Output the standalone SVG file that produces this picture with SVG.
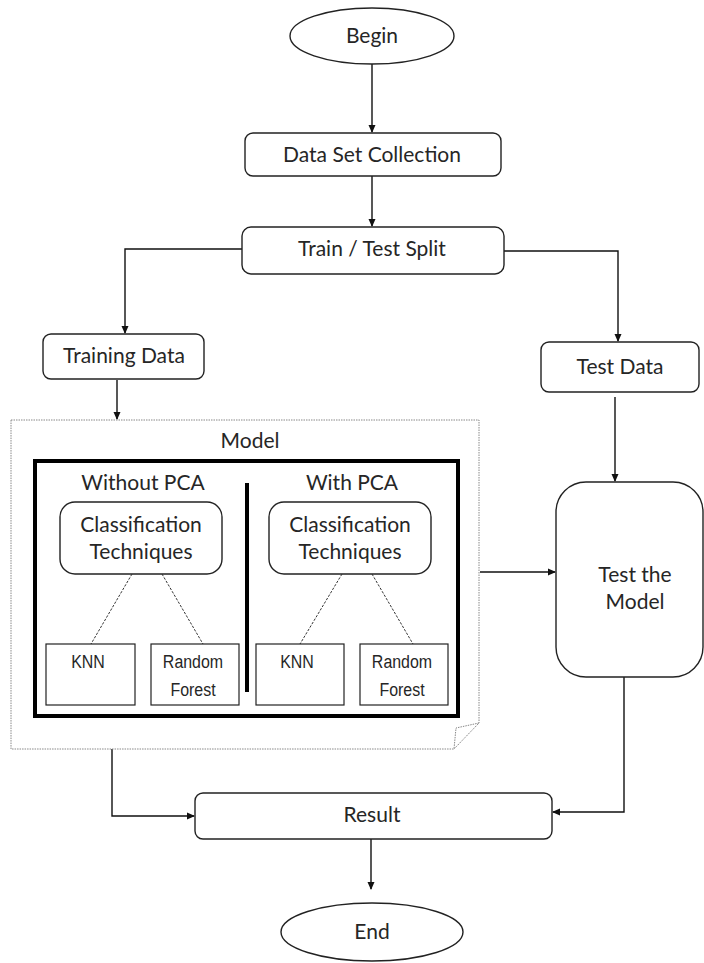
<svg xmlns="http://www.w3.org/2000/svg" width="704" height="963" viewBox="0 0 704 963">
<style>
.box{fill:#fff;stroke:#222;stroke-width:1.4}
.t{font-family:Lato,"Open Sans","Noto Sans",sans-serif;fill:#262626;text-anchor:middle;font-size:21px}
.n{font-family:"Liberation Sans",Arial,sans-serif;fill:#262626;text-anchor:middle;font-size:19px}
.c{fill:none;stroke:#111;stroke-width:1.4}
.d{fill:none;stroke:#333;stroke-width:1;stroke-dasharray:2.5 1.5}
.sq{fill:#fff;stroke:#222;stroke-width:1.2}
</style>
<defs>
<marker id="ah" markerWidth="8" markerHeight="8" refX="7" refY="4" orient="auto" markerUnits="userSpaceOnUse">
<path d="M0,0.5 L8,4 L0,7.5 Z" fill="#111"/>
</marker>
</defs>
<rect width="704" height="963" fill="#fff"/>

<g id="connectors">
<path class="c" d="M372,64 V132" marker-end="url(#ah)"/>
<path class="c" d="M372,176 V226" marker-end="url(#ah)"/>
<path class="c" d="M242,249 H125 V333" marker-end="url(#ah)"/>
<path class="c" d="M504,251 H618 V341" marker-end="url(#ah)"/>
<path class="c" d="M117,380 V419" marker-end="url(#ah)"/>
<path class="c" d="M615,397 V481" marker-end="url(#ah)"/>
<path class="c" d="M480,572 H555" marker-end="url(#ah)"/>
<path class="c" d="M112,749 V816 H194" marker-end="url(#ah)"/>
<path class="c" d="M624,677 V812 H553" marker-end="url(#ah)"/>
<path class="c" d="M371,839 V889" marker-end="url(#ah)"/>
</g>

<g id="begin">
<ellipse class="box" cx="372" cy="36" rx="82" ry="28"/>
<text class="t" x="372" y="43">Begin</text>
</g>

<g id="data-set-collection">
<rect class="box" x="245" y="133" width="256" height="43" rx="8"/>
<text class="t" x="372" y="162">Data Set Collection</text>
</g>

<g id="train-test-split">
<rect class="box" x="242" y="227" width="262" height="47" rx="9"/>
<text class="t" x="372" y="256">Train / Test Split</text>
</g>

<g id="training-data">
<rect class="box" x="43" y="334" width="161" height="45" rx="8"/>
<text class="t" x="124" y="363">Training Data</text>
</g>

<g id="test-data">
<rect class="box" x="541" y="342" width="158" height="50" rx="8"/>
<text class="t" x="620" y="374">Test Data</text>
</g>

<g id="model">
<path d="M11,420 H479 V723 L454,749 H11 Z" fill="#fff" stroke="#888" stroke-width="1" stroke-dasharray="1.5 1"/>
<path d="M479,723 L456,728 L454,749" fill="none" stroke="#888" stroke-width="1" stroke-dasharray="1.5 1"/>
<text class="t" x="250" y="448" font-size="23">Model</text>
<rect x="35" y="461" width="423" height="255" fill="none" stroke="#000" stroke-width="4"/>
<line x1="247" y1="483" x2="247" y2="692" stroke="#000" stroke-width="4"/>
</g>

<g id="without-pca">
<text class="t" x="143" y="490" font-size="22" fill="#1a1f3a">Without PCA</text>
<rect class="box" x="60" y="502" width="162" height="72" rx="15"/>
<text class="t" x="141" y="532">Classification</text>
<text class="t" x="141" y="559">Techniques</text>
<line class="d" x1="132" y1="574" x2="91" y2="644"/>
<line class="d" x1="162" y1="574" x2="203" y2="644"/>
</g>
<g id="knn-1">
<rect class="sq" x="46" y="644" width="89" height="61"/>
<text class="n" transform="translate(88,668) scale(0.84,1)">KNN</text>
</g>
<g id="random-forest-1">
<rect class="sq" x="151" y="644" width="88" height="61"/>
<text class="n" transform="translate(193,668) scale(0.84,1)">Random</text>
<text class="n" transform="translate(193,696) scale(0.84,1)">Forest</text>
</g>

<g id="with-pca">
<text class="t" x="352" y="490" font-size="22" fill="#1a1f3a">With PCA</text>
<rect class="box" x="269" y="502" width="162" height="72" rx="15"/>
<text class="t" x="350" y="532">Classification</text>
<text class="t" x="350" y="559">Techniques</text>
<line class="d" x1="342" y1="574" x2="300" y2="644"/>
<line class="d" x1="372" y1="574" x2="413" y2="644"/>
</g>
<g id="knn-2">
<rect class="sq" x="256" y="644" width="88" height="61"/>
<text class="n" transform="translate(297,668) scale(0.84,1)">KNN</text>
</g>
<g id="random-forest-2">
<rect class="sq" x="360" y="644" width="88" height="61"/>
<text class="n" transform="translate(402,668) scale(0.84,1)">Random</text>
<text class="n" transform="translate(402,696) scale(0.84,1)">Forest</text>
</g>

<g id="test-the-model">
<rect class="box" x="556" y="482" width="147" height="195" rx="30"/>
<text class="t" x="635" y="582">Test the</text>
<text class="t" x="635" y="609">Model</text>
</g>

<g id="result">
<rect class="box" x="195" y="793" width="357" height="46" rx="8"/>
<text class="t" x="372" y="822">Result</text>
</g>

<g id="end">
<ellipse class="box" cx="372" cy="932" rx="91" ry="29"/>
<text class="t" x="372" y="939">End</text>
</g>
</svg>
